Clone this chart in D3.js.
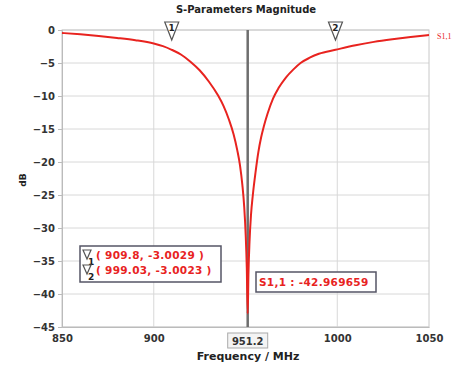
<!DOCTYPE html>
<html>
<head>
<meta charset="utf-8">
<script src="https://cdn.jsdelivr.net/npm/d3@7"></script>
<style>
body { margin: 0; background: #fff; }
text { font-family: "DejaVu Sans", sans-serif; }
</style>
</head>
<body>
<div id="chart"></div>
<script>
// S1,1 magnitude (MHz, dB)
var freqs = [850, 860, 870, 880, 890, 900, 905, 909.8, 915, 920, 925, 930, 935, 938, 941, 943.5, 945.5, 947, 948.3, 949.3, 950.1, 950.7, 951.2,
             951.6, 952.2, 953, 954, 955.5, 957, 958.5, 960, 962, 965, 968, 972, 976, 980, 985, 990, 999.03, 1010, 1020, 1030, 1040, 1050]
var s11 = [-0.45, -0.65, -0.9, -1.2, -1.55, -2.05, -2.45, -3.0, -3.75, -4.8, -6.1, -7.8, -9.9, -11.5, -13.6, -15.8, -18.2, -20.5, -23.5, -26.8, -31, -36, -42.97,
           -37, -32, -28, -25, -21.5, -18.5, -16.3, -14.6, -12.7, -10.4, -8.8, -7.2, -6.0, -5.0, -4.2, -3.6, -3.0, -2.3, -1.8, -1.4, -1.05, -0.75]

var xTicks = [850, 900, 1000, 1050]
var yTicks = [0, -5, -10, -15, -20, -25, -30, -35, -40, -45]

var markerFreqs = [909.8, 999.03]
var markerVals = ['-3.0029', '-3.0023']
var markerLabels = ['909.8', '999.03']
var cursorFreq = 951.2
var cursorText = 'S1,1 : -42.969659'

var size = ({width: 465, height: 367})
var margin = ({top: 30, right: 36, bottom: 40, left: 62})

var data = freqs.map((f, i) => ({f: f, v: s11[i]}))

var x = d3.scaleLinear()
    .domain([850, 1050])
    .range([margin.left, size.width - margin.right])

var y = d3.scaleLinear()
    .domain([-45, 0])
    .range([size.height - margin.bottom, margin.top])

const svg = d3.select('#chart')
    .append('svg')
    .attr('width', size.width)
    .attr('height', size.height)

// grid
svg.append('g')
    .selectAll('line')
    .data(yTicks)
    .join('line')
        .attr('x1', x(850)).attr('x2', x(1050))
        .attr('y1', d => y(d)).attr('y2', d => y(d))
        .attr('stroke', '#d8d8d8')
svg.append('g')
    .selectAll('line')
    .data([900, 1000])
    .join('line')
        .attr('x1', d => x(d)).attr('x2', d => x(d))
        .attr('y1', y(0)).attr('y2', y(-45))
        .attr('stroke', '#d8d8d8')

svg.append('rect')
    .attr('x', x(850)).attr('y', y(0))
    .attr('width', x(1050) - x(850)).attr('height', y(-45) - y(0))
    .attr('fill', 'none').attr('stroke', '#c8c8c8')

// axes
var yAxis = g => g
    .attr('transform', `translate(${margin.left}, 0)`)
    .call(d3.axisLeft(y).tickValues(yTicks).tickSize(4).tickPadding(3))
var xAxis = g => g
    .attr('transform', `translate(0, ${size.height - margin.bottom})`)
    .call(d3.axisBottom(x).tickValues(xTicks).tickFormat(d3.format('d')).tickSize(0).tickPadding(8))

svg.append('g').call(yAxis)
svg.append('g').call(xAxis)
svg.selectAll('.domain').attr('stroke', '#bbb')
svg.selectAll('.tick line').attr('stroke', '#bbb')
svg.selectAll('.tick text')
    .attr('fill', '#333')
    .style('font-size', '10px')
    .style('font-weight', 'bold')

// cursor line
svg.append('line')
    .attr('x1', x(cursorFreq)).attr('x2', x(cursorFreq))
    .attr('y1', y(0)).attr('y2', y(-45))
    .attr('stroke', '#6e6e6e')
    .attr('stroke-width', 2.5)

// curve
var line = d3.line()
    .x(d => x(d.f))
    .y(d => y(d.v))
    .curve(d3.curveMonotoneX)

svg.append('path')
    .datum(data)
    .attr('fill', 'none')
    .attr('stroke', '#e8231f')
    .attr('stroke-width', 2)
    .attr('stroke-linejoin', 'round')
    .attr('d', line)

svg.append('text')
    .attr('x', x(1050) + 8).attr('y', y(s11[s11.length - 1]) + 4)
    .attr('fill', '#e8231f')
    .style('font-size', '8px')
    .style('font-family', 'Liberation Serif, serif')
    .text('S1,1')

// marker triangles
function triangle(g, cx, top, w, h, label, fs) {
    g.append('path')
        .attr('d', `M${cx - w / 2},${top} L${cx + w / 2},${top} L${cx},${top + h} Z`)
        .attr('fill', '#fff')
        .attr('stroke', '#555')
        .attr('stroke-width', 1.2)
    g.append('text')
        .attr('x', cx).attr('y', top + fs)
        .attr('text-anchor', 'middle')
        .attr('fill', '#222')
        .style('font-size', fs + 'px')
        .style('font-weight', 'bold')
        .text(label)
}
markerFreqs.forEach((f, i) => {
    triangle(svg.append('g'), x(f), y(0) - 8, 14, 18, i + 1, 9)
})

// cursor label on x axis
var cx = x(cursorFreq)
svg.append('rect')
    .attr('x', cx - 20).attr('y', 333)
    .attr('width', 40).attr('height', 15)
    .attr('fill', '#f4f4f4').attr('stroke', '#aaa')
svg.append('text')
    .attr('x', cx).attr('y', 344.5)
    .attr('text-anchor', 'middle')
    .attr('fill', '#333')
    .style('font-size', '10px')
    .style('font-weight', 'bold')
    .text(cursorFreq)

// marker legend box
var lg = svg.append('g')
lg.append('rect')
    .attr('x', 80).attr('y', 246)
    .attr('width', 141).attr('height', 36)
    .attr('fill', '#fff').attr('stroke', '#556')
    .attr('stroke-width', 1.5)
markerFreqs.forEach((f, i) => {
    var ry = 259 + i * 15
    triangle(lg, 87, ry - 9, 8, 9, '', 0)
    lg.append('text')
        .attr('x', 88).attr('y', ry + 6)
        .attr('fill', '#222')
        .style('font-size', '9px')
        .style('font-weight', 'bold')
        .text(i + 1)
    lg.append('text')
        .attr('x', 96).attr('y', ry)
        .attr('fill', '#e8231f')
        .style('font-size', '10.5px')
        .style('letter-spacing', '0.3px')
        .style('font-weight', 'bold')
        .text('( ' + markerLabels[i] + ', ' + markerVals[i] + ' )')
})

// cursor readout box
svg.append('rect')
    .attr('x', 256).attr('y', 272)
    .attr('width', 120).attr('height', 20)
    .attr('fill', '#fff').attr('stroke', '#556')
    .attr('stroke-width', 1.5)
svg.append('text')
    .attr('x', 259).attr('y', 286)
    .attr('fill', '#e8231f')
    .style('font-size', '10.5px')
    .style('letter-spacing', '0.3px')
    .style('font-weight', 'bold')
    .text(cursorText)

// title and axis labels
svg.append('text')
    .attr('x', 246).attr('y', 13)
    .attr('text-anchor', 'middle')
    .attr('fill', '#222')
    .style('font-size', '10px')
    .style('font-weight', 'bold')
    .text('S-Parameters Magnitude')

svg.append('text')
    .attr('x', 248).attr('y', 360)
    .attr('text-anchor', 'middle')
    .attr('fill', '#222')
    .style('font-size', '11px')
    .style('font-weight', 'bold')
    .text('Frequency / MHz')

svg.append('text')
    .attr('transform', 'translate(26, 180) rotate(-90)')
    .attr('text-anchor', 'middle')
    .attr('fill', '#222')
    .style('font-size', '9px')
    .style('font-weight', 'bold')
    .text('dB')
</script>
</body>
</html>
